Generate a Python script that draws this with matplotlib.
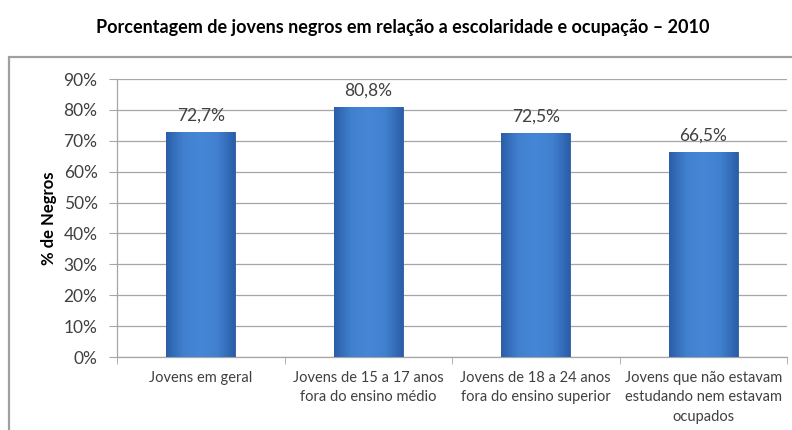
import numpy as np
import matplotlib
matplotlib.use('Agg')
import matplotlib.pyplot as plt
from matplotlib.colors import LinearSegmentedColormap
from matplotlib.patches import Rectangle

plt.rcParams['font.family'] = ['Lato', 'DejaVu Sans']

# dados
categorias = ['Jovens em geral',
              'Jovens de 15 a 17 anos\nfora do ensino médio',
              'Jovens de 18 a 24 anos\nfora do ensino superior',
              'Jovens que não estavam\nestudando nem estavam\nocupados']
valores = [72.7, 80.8, 72.5, 66.5]
rotulos = ['72,7%', '80,8%', '72,5%', '66,5%']
yticks = [0, 10, 20, 30, 40, 50, 60, 70, 80, 90]

titulo = 'Porcentagem de jovens negros em relação a escolaridade e ocupação – 2010'

fig = plt.figure(figsize=(7.92, 4.30), dpi=100)
fig.patch.set_facecolor('white')

# moldura externa do grafico (estilo Excel)
fig.patches.append(Rectangle((9/792, -0.05), 1.0, (1 - 57/430) + 0.05,
                             transform=fig.transFigure, fill=False,
                             edgecolor='#a0a0a0', linewidth=1.6))

fig.text(403/792, 1 - 27/430, titulo, ha='center', va='center',
         fontsize=13, fontweight='bold', color='black')

ax = fig.add_axes([117/792, 1 - 357/430, 670/792, 278/430])

x = np.arange(len(categorias))
bars = ax.bar(x, valores, width=0.41, color='#3b78c8', edgecolor='#2a5a9e',
              linewidth=0.6, zorder=3)

# gradiente horizontal nas barras
cmap = LinearSegmentedColormap.from_list('bev', ['#2b5ea8', '#4080cf', '#4587d6', '#4080cf', '#2b5ea8'])
grad = np.linspace(0, 1, 200).reshape(1, -1)
for b in bars:
    im = ax.imshow(grad, cmap=cmap, aspect='auto', zorder=3.5,
                   extent=[b.get_x(), b.get_x() + b.get_width(), 0, b.get_height()])
    im.set_clip_path(b)

for xi, v, r in zip(x, valores, rotulos):
    ax.annotate(r, (xi, v), xytext=(0, 6), textcoords='offset points',
                ha='center', va='bottom', fontsize=12.5, color='#404040')

ax.set_xlim(-0.5, len(categorias) - 0.5)
ax.set_ylim(0, 90)
ax.set_yticks(yticks)
ax.set_yticklabels([f'{t}%' for t in yticks], fontsize=12.5, color='#404040')
ax.yaxis.grid(True, color='#a6a6a6', linewidth=0.9, zorder=0)
ax.set_axisbelow(True)

ax.set_xticks(x)
ax.set_xticklabels(categorias, fontsize=10.5, color='#404040', linespacing=1.5)
ax.set_xticks(np.arange(-0.5, len(categorias)), minor=True)
ax.tick_params(axis='x', which='major', length=0, pad=10)
ax.tick_params(axis='x', which='minor', length=5, color='#a6a6a6')
ax.tick_params(axis='y', length=6, color='#a6a6a6', pad=8)

for s in ['top', 'right']:
    ax.spines[s].set_visible(False)
for s in ['left', 'bottom']:
    ax.spines[s].set_color('#a6a6a6')
    ax.spines[s].set_linewidth(0.9)

ax.set_ylabel('% de Negros', fontsize=12, fontweight='bold', color='black', labelpad=5)

fig.savefig('out.png', dpi=100)
